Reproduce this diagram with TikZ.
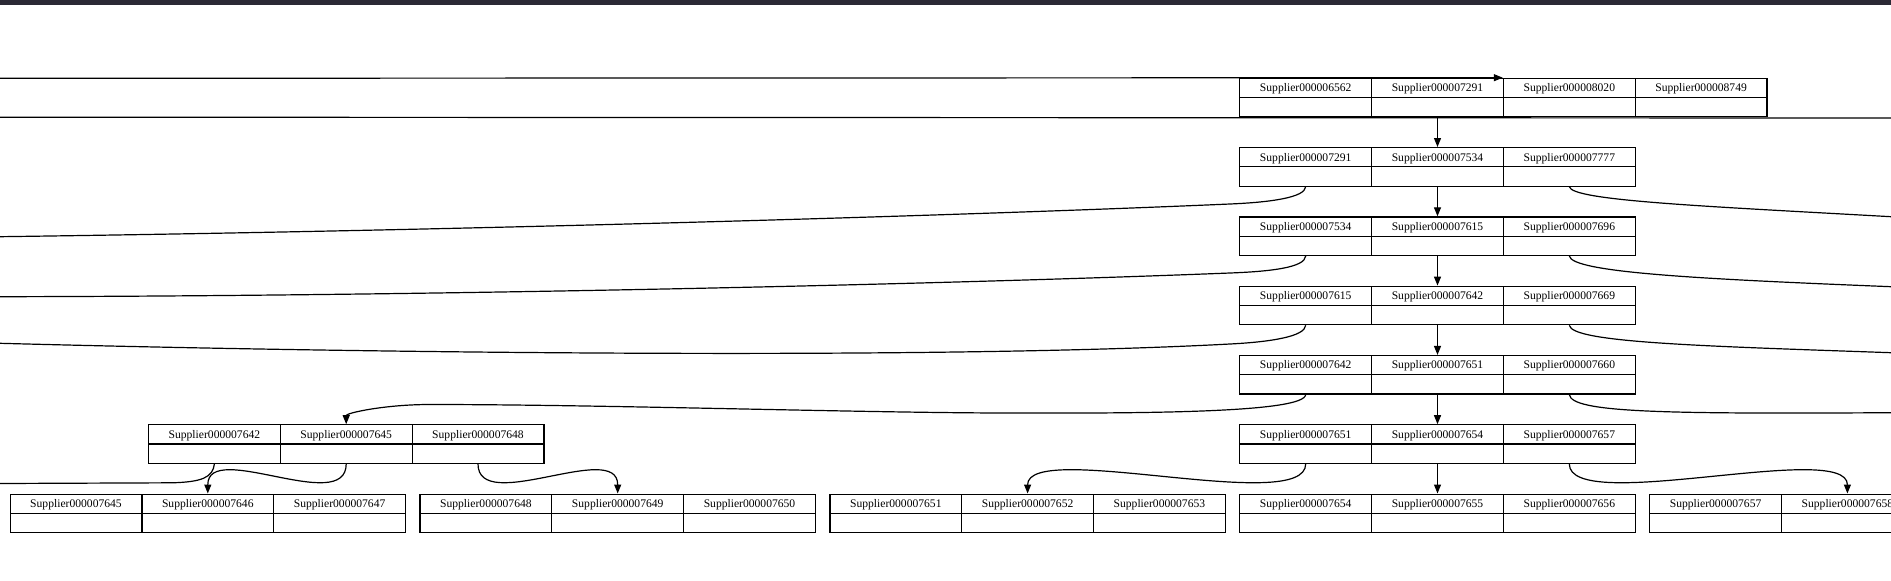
\documentclass[tikz,border=0pt]{standalone}
\usepackage{fontspec}
\setmainfont{Liberation Serif}
\usetikzlibrary{arrows.meta}
\definecolor{barcolor}{RGB}{43,41,53}

% one record: name, left edge, top edge, list of keys
\newcommand{\recordnode}[4]{%
  \foreach \k [count=\i] in {#4} {
    \node[key] (#1-k\i) at ({#2+(\i-0.5)*131.8},{#3+9.625}) {\k};
    \node[ptr] (#1-p\i) at ({#2+(\i-0.5)*131.8},{#3+28.875}) {};
  }%
}

\begin{document}
\begin{tikzpicture}[x=1pt, y=-1pt,
    key/.style={draw, rectangle, minimum width=131.8pt, minimum height=19.25pt, inner sep=0pt, line width=1.2pt, text height=7.7pt, text depth=0pt, font=\fontsize{11.6}{13}\selectfont},
    ptr/.style={key},
    edge/.style={-{Triangle[length=9pt,width=7pt]}, line width=1.2pt},
    link/.style={line width=1.2pt}
]
\useasboundingbox (0,0) rectangle (1891,581);
\fill[white] (0,0) rectangle (1891,581);
\fill[barcolor] (0,0) rectangle (1891,5);

% --- Records, top to bottom ---
\recordnode{r}{1239.8}{78.3}{Supplier000006562,Supplier000007291,Supplier000008020,Supplier000008749}
\recordnode{n2}{1239.8}{147.6}{Supplier000007291,Supplier000007534,Supplier000007777}
\recordnode{n3}{1239.8}{216.9}{Supplier000007534,Supplier000007615,Supplier000007696}
\recordnode{n4}{1239.8}{286.2}{Supplier000007615,Supplier000007642,Supplier000007669}
\recordnode{n5}{1239.8}{355.5}{Supplier000007642,Supplier000007651,Supplier000007660}
\recordnode{n6}{1239.8}{424.8}{Supplier000007651,Supplier000007654,Supplier000007657}
\recordnode{m6}{148.5}{424.8}{Supplier000007642,Supplier000007645,Supplier000007648}

% --- Leaves ---
\recordnode{a}{10.1}{494.1}{Supplier000007645,Supplier000007646,Supplier000007647}
\recordnode{b}{420.0}{494.1}{Supplier000007648,Supplier000007649,Supplier000007650}
\recordnode{c}{829.9}{494.1}{Supplier000007651,Supplier000007652,Supplier000007653}
\recordnode{d}{1239.8}{494.1}{Supplier000007654,Supplier000007655,Supplier000007656}
\recordnode{e}{1649.7}{494.1}{Supplier000007657,Supplier000007658}

% --- Free ends at the borders ---
\coordinate (west0) at (0,78.3);
\coordinate (west1) at (0,117.2);
\coordinate (east1) at (1891,118);
\coordinate (west2) at (0,236.7);
\coordinate (west3) at (0,296.7);
\coordinate (west4) at (0,343.3);
\coordinate (west6) at (0,483.5);
\coordinate (east2) at (1891,216.7);
\coordinate (east3) at (1891,286.7);
\coordinate (east4) at (1891,352.7);
\coordinate (east5) at (1891,412.7);

% --- Straight links ---
\draw[edge] (west0) -- (r-k3.north west);
\draw[link] (west1) -- (east1);
\foreach \a/\b in {r/n2, n2/n3, n3/n4, n4/n5, n5/n6, n6/d}
  \draw[edge] (\a-p2.south) -- (\b-k2.north);

% --- Curves to the left ---
\draw[link] (n2-p1.south) .. controls +(-0.7,10.9) and +(40,-1.7) .. (1230,204)
  .. controls +(-230,10) and +(500,-6.7) .. (west2);
\draw[link] (n3-p1.south) .. controls +(-0.7,11.6) and +(40,-1.5) .. (1230,273)
  .. controls +(-280,11) and +(450,-0.7) .. (west3);
\draw[link] (n4-p1.south) .. controls +(-0.7,11.3) and +(40,-2) .. (1230,344)
  .. controls +(-280,15) and +(400,10.7) .. (west4);
\draw[edge] (n5-p1.south) .. controls +(-1.7,18) and +(150,0.5) .. (1000,413)
  .. controls +(-150,-0.5) and +(170,0) .. (430,404.5)
  .. controls +(-46,0) and +(0,-11.1) .. (m6-k2.north);
\draw[link] (m6-p1.south) .. controls +(-1.5,13.5) and +(30,-0.8) .. (172,482.8) -- (west6);

% --- Curves to the right ---
\draw[link] (n2-p3.south) .. controls +(2.7,13.9) and +(-191,-10.7) .. (east2);
\draw[link] (n3-p3.south) .. controls +(2.7,16.6) and +(-191,-7.7) .. (east3);
\draw[link] (n4-p3.south) .. controls +(2.7,17.3) and +(-191,-6.7) .. (east4);
\draw[link] (n5-p3.south) .. controls +(2.7,18) and +(-231,1.3) .. (east5);

% --- Down to the leaves ---
\draw[edge] (m6-p2.south) .. controls +(0,51.7) and +(0,-54) .. (a-k2.north);
\draw[edge] (m6-p3.south) .. controls +(0,51.7) and +(0,-54) .. (b-k2.north);
\draw[edge] (n6-p1.south) .. controls +(0,51.7) and +(0,-54) .. (c-k2.north);
\draw[edge] (n6-p3.south) .. controls +(0,51.7) and +(0,-54) .. (e-k2.north);

\end{tikzpicture}
\end{document}
